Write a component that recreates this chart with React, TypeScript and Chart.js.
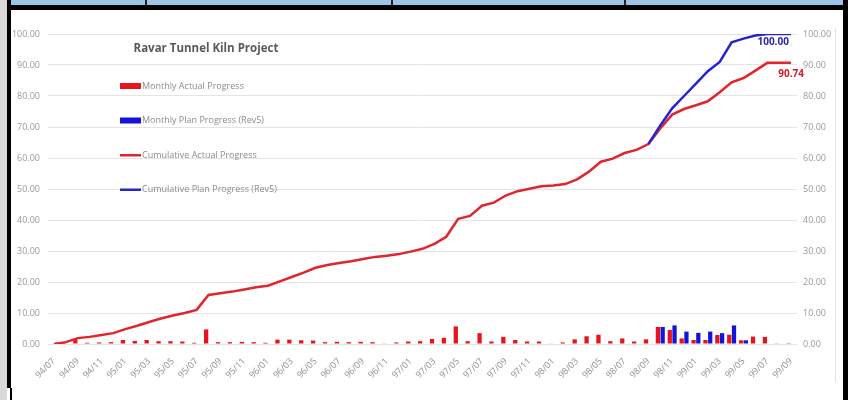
import React, { useEffect, useRef } from "react";
import { Chart, registerables } from "chart.js";

Chart.register(...registerables);

const labels = [
  "94/07","94/08","94/09","94/10","94/11","94/12",
  "95/01","95/02","95/03","95/04","95/05","95/06","95/07","95/08","95/09","95/10","95/11","95/12",
  "96/01","96/02","96/03","96/04","96/05","96/06","96/07","96/08","96/09","96/10","96/11","96/12",
  "97/01","97/02","97/03","97/04","97/05","97/06","97/07","97/08","97/09","97/10","97/11","97/12",
  "98/01","98/02","98/03","98/04","98/05","98/06","98/07","98/08","98/09","98/10","98/11","98/12",
  "99/01","99/02","99/03","99/04","99/05","99/06","99/07","99/08","99/09",
];

const monthlyActual = [
  0, 0.5, 1.5, 0.4, 0.5, 0.6,
  1.3, 1.0, 1.3, 0.9, 0.9, 0.8, 0.4, 4.7, 0.6, 0.6, 0.7, 0.6,
  0.4, 1.4, 1.4, 1.2, 1.1, 0.6, 0.7, 0.6, 0.7, 0.6, 0.2, 0.5,
  0.8, 0.9, 1.6, 2.0, 5.7, 0.9, 3.5, 0.8, 2.3, 1.3, 0.8, 0.8,
  0.2, 0.5, 1.5, 2.5, 3.0, 0.9, 1.8, 0.8, 1.5, 5.5, 4.5, 1.8,
  1.3, 1.3, 2.9, 3.0, 1.2, 2.4, 2.3, 0.1, 0.05,
];

const monthlyPlan = [
  null, null, null, null, null, null,
  null, null, null, null, null, null, null, null, null, null, null, null,
  null, null, null, null, null, null, null, null, null, null, null, null,
  null, null, null, null, null, null, null, null, null, null, null, null,
  null, null, null, null, null, null, null, null, null, 5.5, 6.0, 4.0,
  3.6, 4.0, 3.5, 6.0, 1.2, null, null, null, null,
];

const cumulativeActual = [
  0, 0.6, 1.9, 2.3, 2.9, 3.5,
  4.8, 5.9, 7.1, 8.2, 9.2, 10.0, 11.0, 15.8, 16.4, 16.9, 17.6, 18.3,
  18.8, 20.2, 21.6, 23.0, 24.6, 25.5, 26.1, 26.7, 27.4, 28.1, 28.5, 29.0,
  29.8, 30.7, 32.3, 34.6, 40.4, 41.3, 44.6, 45.6, 47.9, 49.3, 50.1, 50.9,
  51.1, 51.6, 53.1, 55.6, 58.8, 59.8, 61.6, 62.6, 64.5, 69.5, 74.0, 75.8,
  77.0, 78.3, 81.2, 84.4, 85.8, 88.2, 90.7, 90.74, 90.74,
];

const cumulativePlan = [
  null, null, null, null, null, null,
  null, null, null, null, null, null, null, null, null, null, null, null,
  null, null, null, null, null, null, null, null, null, null, null, null,
  null, null, null, null, null, null, null, null, null, null, null, null,
  null, null, null, null, null, null, null, null, 64.5, 70.5, 76.0, 80.0,
  84.0, 88.0, 91.0, 97.3, 98.5, 99.5, 100, 100, 100,
];

const yTicks = [0, 10, 20, 30, 40, 50, 60, 70, 80, 90, 100];

const chartTitle = "Ravar Tunnel Kiln Project";
const actualEndLabel = "90.74";
const planEndLabel = "100.00";

const RED_BAR = "#e8141c";
const BLUE_BAR = "#1414d8";
const RED_LINE = "#e0262c";
const BLUE_LINE = "#2424d0";
const FONT = "'Open Sans', 'Liberation Sans', sans-serif";

const overlayPlugin = {
  id: "overlay",
  afterDatasetsDraw(chart: any) {
    const ctx = chart.ctx;
    ctx.save();
    ctx.font = `bold 10px ${FONT}`;
    ctx.textAlign = "center";
    ctx.textBaseline = "top";
    const planMeta = chart.getDatasetMeta(3);
    const pPt = planMeta.data[cumulativePlan.length - 2];
    if (pPt) {
      ctx.fillStyle = "#2a2aa8";
      ctx.fillText(planEndLabel, pPt.x - 6, pPt.y + 3);
    }
    const actMeta = chart.getDatasetMeta(2);
    const aPt = actMeta.data[cumulativeActual.length - 1];
    if (aPt) {
      ctx.fillStyle = "#cc1f24";
      ctx.fillText(actualEndLabel, aPt.x, aPt.y + 6);
    }
    ctx.restore();
  },
  afterDraw(chart: any) {
    const ctx = chart.ctx;
    const area = chart.chartArea;
    ctx.save();
    ctx.fillStyle = "#595959";
    ctx.font = `bold 11.5px ${FONT}`;
    ctx.textAlign = "center";
    ctx.textBaseline = "middle";
    ctx.fillText(chartTitle, area.left + 158, area.top + 15);

    ctx.font = `9px ${FONT}`;
    ctx.textAlign = "left";
    chart.data.datasets.forEach((ds: any, i: number) => {
      const y = area.top + 52 + i * 34.5;
      const x = area.left + 72;
      if (ds.type === "bar") {
        ctx.fillStyle = ds.backgroundColor;
        ctx.fillRect(x, y - 3, 21, 6);
      } else {
        ctx.fillStyle = ds.borderColor;
        ctx.fillRect(x, y - 1, 21, 2.5);
      }
      ctx.fillStyle = "#8c8c8c";
      ctx.fillText(ds.label, x + 22, y);
    });
    ctx.restore();
  },
};

export default function App() {
  const canvasRef = useRef<HTMLCanvasElement | null>(null);

  useEffect(() => {
    if (!canvasRef.current) return;
    const tickFont = { family: FONT, size: 9 };
    const chart = new Chart(canvasRef.current, {
      type: "bar",
      data: {
        labels,
        datasets: [
          {
            type: "bar",
            label: "Monthly Actual Progress",
            data: monthlyActual,
            backgroundColor: RED_BAR,
            order: 3,
            yAxisID: "y",
          },
          {
            type: "bar",
            label: "Monthly Plan Progress (Rev5)",
            data: monthlyPlan as any,
            backgroundColor: BLUE_BAR,
            order: 3,
            yAxisID: "y",
          },
          {
            type: "line",
            label: "Cumulative Actual Progress",
            data: cumulativeActual,
            borderColor: RED_LINE,
            backgroundColor: RED_LINE,
            borderWidth: 2.5,
            pointRadius: 0,
            tension: 0,
            order: 1,
            yAxisID: "y",
          },
          {
            type: "line",
            label: "Cumulative Plan Progress (Rev5)",
            data: cumulativePlan as any,
            borderColor: BLUE_LINE,
            backgroundColor: BLUE_LINE,
            borderWidth: 2.5,
            pointRadius: 0,
            tension: 0,
            order: 0,
            yAxisID: "y",
          },
        ] as any,
      },
      options: {
        responsive: false,
        animation: false,
        layout: { padding: { top: 24, left: 0, right: 0, bottom: 0 } },
        plugins: {
          legend: { display: false },
          title: { display: false },
          tooltip: { enabled: false },
        },
        scales: {
          x: {
            offset: true,
            grid: { display: false },
            border: { display: false },
            ticks: {
              autoSkip: false,
              minRotation: 45,
              maxRotation: 45,
              color: "#8f8f8f",
              font: tickFont,
              padding: 4,
              callback: (_v: any, i: number) => (i % 2 === 0 ? labels[i] : ""),
            },
            afterFit: (s: any) => {
              s.height = 56;
            },
          },
          y: {
            position: "left",
            min: 0,
            max: 100,
            afterBuildTicks: (s: any) => {
              s.ticks = yTicks.map((v) => ({ value: v }));
            },
            grid: { color: "#e4e4e4", drawTicks: false, lineWidth: 1 },
            border: { display: false },
            ticks: {
              color: "#9a9a9a",
              font: tickFont,
              padding: 8,
              callback: (v: any) => Number(v).toFixed(2),
            },
            afterFit: (s: any) => {
              s.width = 37;
            },
          },
          y1: {
            position: "right",
            min: 0,
            max: 100,
            afterBuildTicks: (s: any) => {
              s.ticks = yTicks.map((v) => ({ value: v }));
            },
            grid: { display: false, drawTicks: false },
            border: { display: false },
            ticks: {
              color: "#9a9a9a",
              font: tickFont,
              padding: 6,
              callback: (v: any) => Number(v).toFixed(2),
            },
            afterFit: (s: any) => {
              s.width = 46;
            },
          },
        },
      } as any,
      plugins: [overlayPlugin],
    });
    return () => chart.destroy();
  }, []);

  return (
    <div
      style={{
        position: "fixed",
        left: 0,
        top: 0,
        width: 848,
        height: 400,
        background: "#ffffff",
        overflow: "hidden",
      }}
    >
      <canvas
        ref={canvasRef}
        width={832}
        height={390}
        style={{ position: "absolute", left: 11, top: 10, width: 832, height: 390 }}
      />
      <div style={{ position: "absolute", left: 0, top: 0, width: 7, height: 400, background: "#d9d9d9" }} />
      <div style={{ position: "absolute", left: 11, top: 0, width: 832, height: 5, background: "#9dc3e6" }} />
      <div style={{ position: "absolute", left: 145, top: 0, width: 2, height: 5, background: "#222" }} />
      <div style={{ position: "absolute", left: 391, top: 0, width: 2, height: 5, background: "#222" }} />
      <div style={{ position: "absolute", left: 624, top: 0, width: 2, height: 5, background: "#222" }} />
      <div style={{ position: "absolute", left: 7, top: 5, width: 841, height: 5, background: "#000" }} />
      <div style={{ position: "absolute", left: 7, top: 0, width: 4, height: 388, background: "#000" }} />
      <div style={{ position: "absolute", left: 10, top: 388, width: 2, height: 12, background: "#000" }} />
      <div style={{ position: "absolute", left: 843, top: 0, width: 5, height: 400, background: "#000" }} />
      <div style={{ position: "absolute", left: 835, top: 28, width: 1, height: 354, background: "#e2e2e2" }} />
    </div>
  );
}
